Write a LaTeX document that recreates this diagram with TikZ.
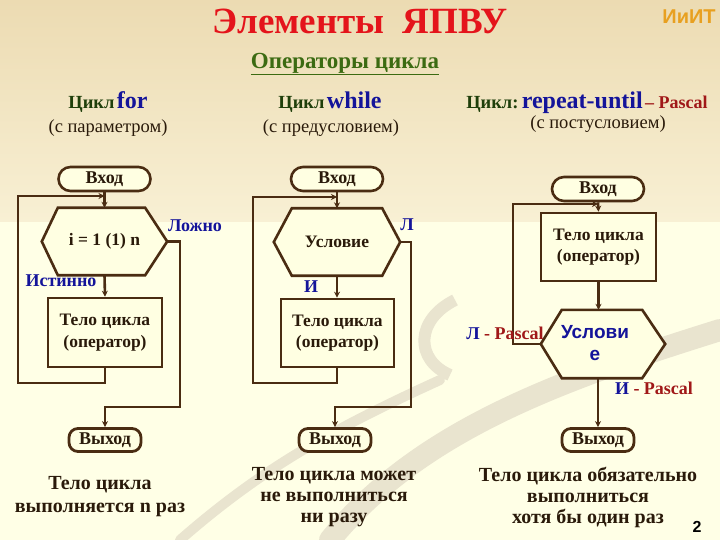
\documentclass[tikz,border=0pt]{standalone}
\usepackage{fontspec}
\setmainfont{Liberation Serif}
\newfontfamily\sansf{Liberation Sans}
\usetikzlibrary{arrows.meta}
\definecolor{linec}{HTML}{4A2C12}
\definecolor{textc}{HTML}{2A1A0A}
\definecolor{bluec}{HTML}{14149A}
\definecolor{greenc}{HTML}{1F3F0A}
\definecolor{ogreen}{HTML}{3C6B12}
\definecolor{redc}{HTML}{E4141B}
\definecolor{orangec}{HTML}{E8A020}
\definecolor{pasc}{HTML}{A01818}
\definecolor{fillc}{HTML}{FFFFE2}
\definecolor{bgtop}{HTML}{ECDBB2}
\definecolor{bgmid}{HTML}{F8F0D4}
\definecolor{bgc}{HTML}{FFFFE6}
\definecolor{swc}{HTML}{E9E4CF}
\newcommand{\fsz}[1]{\fontsize{#1}{#1}\selectfont}
\begin{document}
\begin{tikzpicture}[x=1pt,y=-1pt,
  conn/.style={draw=linec, line width=2.6pt},
  arr/.style={conn, -{Stealth[length=6pt,width=6pt]}},
  term/.style={draw=linec, line width=2.6pt, fill=fillc, rounded corners=12pt,
    minimum width=92pt, minimum height=24pt, inner sep=0pt,
    font=\fsz{18}\bfseries, text=textc},
  exitbox/.style={draw=linec, line width=2.8pt, fill=fillc, rounded corners=9pt,
    minimum width=72pt, minimum height=23pt, inner sep=0pt,
    font=\fsz{18}\bfseries, text=textc},
  body/.style={draw=linec, line width=2.6pt, fill=fillc, inner sep=0pt,
    align=center, font=\fsz{17.5}\bfseries, text=textc},
  hexph/.style={inner sep=0pt, minimum height=67pt},
  hextxt/.style={font=\fsz{17.5}\bfseries, text=textc, align=center},
  lbl/.style={font=\fsz{18}\bfseries, text=bluec, inner sep=0pt},
  head/.style={inner sep=0pt, font=\bfseries},
  sub/.style={inner sep=0pt, font=\fsz{18.5}, text=textc},
  note/.style={inner sep=0pt, align=center, font=\fsz{20}\bfseries, text=textc}
]
\useasboundingbox (0,0) rectangle (720,540);
% background
\fill[bgc] (0,0) rectangle (720,540);
\shade[top color=bgtop, bottom color=bgmid] (0,0) rectangle (720,222);
\draw[swc, line width=22pt, line cap=round] (330,540) .. controls (420,430) and (560,380) .. (720,330);
\draw[swc, line width=10pt, line cap=round] (180,540) .. controls (260,470) and (330,430) .. (440,380);
\draw[swc, line width=12pt] (455,300) .. controls (415,320) and (415,360) .. (450,375);

% titles
\node[inner sep=0pt, font=\fsz{37}\bfseries, text=redc] (title) at (360,21) {Элементы\ \ ЯПВУ};
\node[inner sep=0pt, font=\fsz{20}\sansf\bfseries, text=orangec] (inst) at (689,17) {ИиИТ};
\node[inner sep=0pt, font=\fsz{23}\bfseries, text=ogreen] (ops) at (345,64) {\underline{Операторы цикла}};

% headers
\node[head] (hfor) at (108,102) {{\fsz{18.5}\color{greenc}Цикл} {\fsz{24}\color{bluec}for}};
\node[sub] (sfor) at (108,128) {(с параметром)};
\node[head] (hwhile) at (330,102) {{\fsz{18.5}\color{greenc}Цикл} {\fsz{24}\color{bluec}while}};
\node[sub] (swhile) at (331,128) {(с предусловием)};
\node[head] (hrep) at (587,103) {{\fsz{18.5}\color{greenc}Цикл:} {\fsz{24}\color{bluec}repeat-until} {\fsz{18}\color{pasc}– Pascal}};
\node[sub] (srep) at (598,124) {(с постусловием)};

% ===== for =====
\node[term] (in1) at (104.5,179) {Вход};
\node[hexph, minimum width=125pt] (h1) at (104.5,241.5) {};
\draw[conn, fill=fillc] (h1.west) -- ([xshift=16pt]h1.north west) -- ([xshift=-22pt]h1.north east)
  -- (h1.east) -- ([xshift=-22pt]h1.south east) -- ([xshift=16pt]h1.south west) -- cycle;
\node[hextxt] (h1t) at (h1) {i = 1 (1) n};
\node[body, minimum width=114pt, minimum height=69pt] (b1) at (105,332.5) {Тело цикла\\[4pt](оператор)};
\node[exitbox] (out1) at (105,440) {Выход};
\coordinate (j1) at (104.5,196);
\coordinate (l1) at (18,383);
\coordinate (f1) at (180,407);
\draw[arr] (in1.south) -- (h1.north);
\draw[arr] (h1.south) -- (b1.north);
\draw[arr] (b1.south) |- (l1) |- (j1);
\draw[arr] (h1.east) -| (f1) -| (out1.north);
\node[lbl] (lf1) at (195,226) {Ложно};
\node[lbl] (lt1) at (61,281) {Истинно};

% ===== while =====
\node[term] (in2) at (337,179) {Вход};
\node[hexph, minimum width=126pt] (h2) at (337,242) {};
\draw[conn, fill=fillc] (h2.west) -- ([xshift=18pt]h2.north west) -- ([xshift=-18pt]h2.north east)
  -- (h2.east) -- ([xshift=-18pt]h2.south east) -- ([xshift=18pt]h2.south west) -- cycle;
\node[hextxt] (h2t) at (h2) {Условие};
\node[body, minimum width=113pt, minimum height=68pt] (b2) at (337.5,333) {Тело цикла\\[4pt](оператор)};
\node[exitbox] (out2) at (335,440) {Выход};
\coordinate (j2) at (337,197);
\coordinate (l2) at (253,383);
\coordinate (f2) at (411,407);
\draw[arr] (in2.south) -- (h2.north);
\draw[arr] (h2.south) -- (h2.south |- b2.north);
\draw[arr] (h2.south |- b2.south) |- (l2) |- (j2);
\draw[arr] (h2.east) -| (f2) -| (out2.north);
\node[lbl] (lf2) at (407,225) {Л};
\node[lbl] (lt2) at (311,287) {И};

% ===== repeat-until =====
\node[term] (in3) at (598,189) {Вход};
\node[body, minimum width=115pt, minimum height=68pt] (b3) at (598.5,247) {Тело цикла\\[4pt](оператор)};
\node[hexph, minimum width=124pt, minimum height=68pt] (h3) at (603,344) {};
\draw[conn, fill=fillc] (h3.west) -- ([xshift=21pt]h3.north west) -- ([xshift=-23pt]h3.north east)
  -- (h3.east) -- ([xshift=-23pt]h3.south east) -- ([xshift=21pt]h3.south west) -- cycle;
\node[hextxt, font=\fsz{19}\sansf\bfseries, text=bluec] (h3t) at (595,343) {Услови\\[3pt]е};
\node[exitbox] (out3) at (598,440) {Выход};
\coordinate (j3) at (598,204);
\coordinate (l3) at (513,344);
\draw[arr] (in3.south) -- (b3.north);
\draw[arr] (b3.south) -- (b3.south |- h3.north);
\draw[arr] (h3.west) -- (l3) |- (j3);
\draw[arr] (out3.north |- h3.south) -- (out3.north);
\node[inner sep=0pt, font=\fsz{18}\bfseries] (lf3) at (505,333) {{\color{bluec}Л} {\color{pasc}- Pascal}};
\node[inner sep=0pt, font=\fsz{18}\bfseries] (lt3) at (654,388) {{\color{bluec}И} {\color{pasc}- Pascal}};

% notes
\node[note] (n1) at (100,497) {Тело цикла\\[3pt]выполняется n раз};
\node[note] (n2) at (334,497) {Тело цикла может\\[1pt]не выполниться\\[1pt]ни разу};
\node[note] (n3) at (588,497) {Тело цикла обязательно\\[1pt]выполниться\\[1pt]хотя бы один раз};
\node[inner sep=0pt, font=\fsz{16}\sansf\bfseries, text=black] (pg) at (697,527) {2};
\end{tikzpicture}
\end{document}
